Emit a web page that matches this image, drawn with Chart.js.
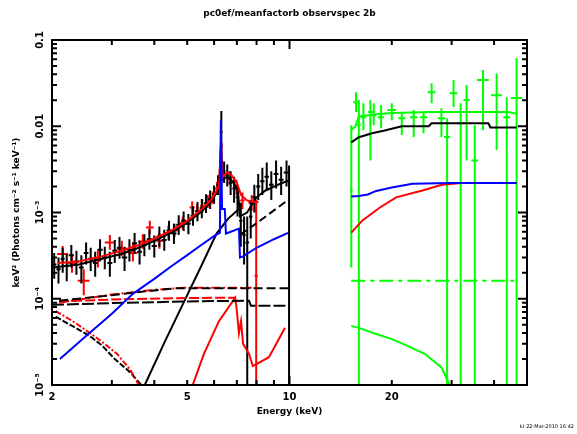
<!DOCTYPE html>
<html>
<head>
<meta charset="utf-8">
<script src="https://cdn.jsdelivr.net/npm/chart.js@4.4.0/dist/chart.umd.min.js"></script>
<style>
  body { margin: 0; background: #fff; }
  canvas { display: block; }
</style>
</head>
<body>
<canvas id="spec" width="577" height="434"></canvas>
<script>
"use strict";

// axis ticks / labels
const xLabels = [2, 5, 10, 20];
const xMinor = [3, 4, 5, 6, 7, 8, 9, 20, 30, 40];
const xMajor = [10];
const yLabels = [1e-5, 1e-4, 1e-3, 0.01, 0.1];
const yLabelText = ["10\u207B\u2075", "10\u207B\u2074", "10\u207B\u00B3", "0.01", "0.1"];

// XIS data, black (energy, half width, value, lower, upper)
const blkE  = [2.03, 2.09, 2.15, 2.21, 2.28, 2.36, 2.44, 2.52, 2.60, 2.68, 2.77, 2.86, 2.96, 3.06, 3.16, 3.27, 3.38, 3.50, 3.62, 3.74, 3.87, 4.00, 4.14, 4.28, 4.42, 4.57, 4.72, 4.88, 5.04, 5.20, 5.36, 5.52, 5.68, 5.84, 6.00, 6.16, 6.30, 6.42, 6.56, 6.71, 6.87, 7.03, 7.19, 7.35, 7.51, 7.69, 7.88, 8.09, 8.32, 8.57, 8.84, 9.13, 9.45, 9.80, 9.97];
const blkHw = [0.03, 0.03, 0.03, 0.03, 0.04, 0.04, 0.04, 0.04, 0.04, 0.04, 0.05, 0.05, 0.05, 0.05, 0.05, 0.06, 0.06, 0.06, 0.06, 0.06, 0.07, 0.07, 0.07, 0.07, 0.07, 0.08, 0.08, 0.08, 0.08, 0.08, 0.08, 0.08, 0.08, 0.08, 0.08, 0.07, 0.06, 0.06, 0.07, 0.08, 0.08, 0.08, 0.08, 0.08, 0.09, 0.09, 0.10, 0.11, 0.12, 0.13, 0.14, 0.15, 0.16, 0.18, 0.04];
const blkY  = [2.5e-4, 2.2e-4, 2.9e-4, 2.4e-4, 3.2e-4, 2.7e-4, 2.3e-4, 3.4e-4, 2.9e-4, 2.6e-4, 3.7e-4, 3.0e-4, 2.6e-4, 3.6e-4, 3.9e-4, 3.0e-4, 3.7e-4, 4.4e-4, 3.5e-4, 4.2e-4, 4.9e-4, 4.1e-4, 5.3e-4, 4.8e-4, 6.2e-4, 5.7e-4, 7.2e-4, 8.0e-4, 7.4e-4, 9.2e-4, 1.03e-3, 1.12e-3, 1.28e-3, 1.42e-3, 1.62e-3, 2.1e-3, 8.5e-3, 3.0e-3, 2.7e-3, 2.2e-3, 1.9e-3, 1.5e-3, 8.0e-4, 5.5e-4, 4.5e-4, 9.0e-4, 1.5e-3, 2.0e-3, 2.3e-3, 2.6e-3, 2.1e-3, 2.8e-3, 2.4e-3, 2.9e-3, 1.5e-3];
const blkLo = [1.7e-4, 1.5e-4, 2.0e-4, 1.6e-4, 2.3e-4, 1.9e-4, 1.5e-4, 2.5e-4, 2.1e-4, 1.8e-4, 2.7e-4, 2.2e-4, 1.8e-4, 2.6e-4, 2.9e-4, 2.1e-4, 2.7e-4, 3.3e-4, 2.5e-4, 3.1e-4, 3.7e-4, 3.0e-4, 4.0e-4, 3.6e-4, 4.7e-4, 4.3e-4, 5.5e-4, 6.1e-4, 5.6e-4, 7.0e-4, 7.9e-4, 8.6e-4, 9.9e-4, 1.1e-3, 1.26e-3, 1.6e-3, 5.5e-3, 2.2e-3, 2.0e-3, 1.6e-3, 1.3e-3, 9.0e-4, 4.0e-4, 2.5e-4, 1e-6, 5.0e-4, 1.0e-3, 1.4e-3, 1.6e-3, 1.8e-3, 1.4e-3, 1.9e-3, 1.6e-3, 2.0e-3, 1e-6];
const blkHi = [3.4e-4, 3.0e-4, 3.9e-4, 3.3e-4, 4.2e-4, 3.6e-4, 3.2e-4, 4.5e-4, 3.9e-4, 3.5e-4, 4.9e-4, 4.0e-4, 3.5e-4, 4.8e-4, 5.2e-4, 4.0e-4, 4.9e-4, 5.8e-4, 4.7e-4, 5.6e-4, 6.4e-4, 5.4e-4, 6.9e-4, 6.3e-4, 8.0e-4, 7.4e-4, 9.3e-4, 1.03e-3, 9.6e-4, 1.18e-3, 1.32e-3, 1.43e-3, 1.63e-3, 1.8e-3, 2.05e-3, 2.7e-3, 1.5e-2, 3.9e-3, 3.6e-3, 3.0e-3, 2.6e-3, 2.1e-3, 1.3e-3, 9.0e-4, 9.0e-4, 1.4e-3, 2.1e-3, 2.8e-3, 3.3e-3, 3.8e-3, 3.0e-3, 4.0e-3, 3.4e-3, 4.0e-3, 3.5e-3];

// XIS data, red
const redE  = [2.15, 2.29, 2.48, 2.73, 2.96, 3.21, 3.46, 3.70, 3.88, 4.14, 4.40, 4.59, 4.85, 5.17, 5.35, 5.54, 5.75, 5.94, 6.12, 6.31, 6.66, 6.98, 7.27, 7.74, 7.98];
const redHw = [0.08, 0.08, 0.10, 0.10, 0.10, 0.11, 0.11, 0.11, 0.10, 0.11, 0.11, 0.10, 0.11, 0.09, 0.09, 0.09, 0.09, 0.09, 0.08, 0.05, 0.11, 0.11, 0.11, 0.18, 0.09];
const redY  = [3.3e-4, 2.6e-4, 1.62e-4, 2.9e-4, 4.5e-4, 3.8e-4, 3.4e-4, 4.6e-4, 6.7e-4, 4.7e-4, 5.8e-4, 6.2e-4, 7.5e-4, 1.14e-3, 1.05e-3, 1.2e-3, 1.35e-3, 1.49e-3, 1.9e-3, 5.0e-3, 2.5e-3, 1.95e-3, 1.38e-3, 1.31e-3, 1.85e-4];
const redLo = [2.6e-4, 2.0e-4, 1.1e-4, 2.3e-4, 3.7e-4, 3.1e-4, 2.7e-4, 3.8e-4, 5.6e-4, 3.8e-4, 4.8e-4, 5.2e-4, 6.3e-4, 9.6e-4, 8.8e-4, 1.0e-3, 1.13e-3, 1.25e-3, 1.6e-3, 3.8e-3, 2.1e-3, 1.6e-3, 1.1e-3, 1.05e-3, 1e-6];
const redHi = [4.1e-4, 3.3e-4, 2.2e-4, 3.6e-4, 5.5e-4, 4.7e-4, 4.3e-4, 5.6e-4, 8.0e-4, 5.8e-4, 7.0e-4, 7.4e-4, 9.0e-4, 1.35e-3, 1.25e-3, 1.42e-3, 1.6e-3, 1.75e-3, 2.25e-3, 6.5e-3, 3.0e-3, 2.4e-3, 1.7e-3, 1.6e-3, 1.4e-3];

// PIN data, green
const grnE  = [15.2, 15.7, 16.0, 16.5, 17.3, 17.7, 18.6, 20.0, 21.4, 23.2, 24.8, 26.2, 28.0, 29.1, 30.4, 31.9, 33.2, 35.1, 37.1, 40.7, 43.6, 46.6];
const grnHw = [0.15, 0.3, 0.2, 0.3, 0.3, 0.3, 0.4, 0.6, 0.5, 0.6, 0.6, 0.7, 0.7, 0.6, 0.8, 0.7, 0.7, 0.8, 1.5, 1.5, 1.0, 1.8];
const grnY  = [1.8e-3, 1.9e-2, 1.03e-2, 1.27e-2, 1.46e-2, 1.34e-2, 1.27e-2, 1.54e-2, 1.24e-2, 1.27e-2, 1.27e-2, 2.48e-2, 1.24e-2, 7.5e-3, 2.41e-2, 1.08e-2, 2.01e-2, 4.0e-3, 3.43e-2, 2.29e-2, 1.27e-2, 2.12e-2];
const grnLo = [2.3e-4, 1.46e-2, 1e-6, 9.0e-3, 4.0e-3, 1.03e-2, 9.5e-3, 1.17e-2, 7.9e-3, 7.5e-3, 8.3e-3, 1.85e-2, 7.5e-3, 1e-6, 1.67e-2, 1e-6, 4.0e-3, 1e-6, 9.0e-3, 5.3e-3, 1e-6, 1e-6];
const grnHi = [1.03e-2, 2.48e-2, 2.01e-2, 1.85e-2, 2.01e-2, 1.85e-2, 1.76e-2, 1.85e-2, 1.41e-2, 1.54e-2, 1.46e-2, 3.16e-2, 1.62e-2, 1.24e-2, 3.43e-2, 1.85e-2, 3.0e-2, 1.03e-2, 4.48e-2, 4.1e-2, 2.17e-2, 6.2e-2];

// model curves (energy, value)
const blkModE = [2.0, 2.4, 2.8, 3.2, 3.6, 4.0, 4.5, 5.0, 5.5, 5.9, 6.2, 6.28, 6.36, 6.55, 6.8, 7.05, 7.15, 7.5, 8.0, 8.5, 9.0, 9.5, 10.0];
const blkModY = [2.3e-4, 2.5e-4, 2.9e-4, 3.3e-4, 3.9e-4, 4.7e-4, 5.9e-4, 7.6e-4, 1.02e-3, 1.35e-3, 1.9e-3, 6.0e-3, 2.4e-3, 2.6e-3, 2.3e-3, 1.8e-3, 9.0e-4, 1.0e-3, 1.5e-3, 1.8e-3, 2.0e-3, 2.2e-3, 2.35e-3];
const redModE = [2.08, 2.4, 2.8, 3.2, 3.6, 4.0, 4.5, 5.0, 5.5, 5.9, 6.2, 6.28, 6.36, 6.55, 6.75, 7.0, 7.2, 7.5, 7.9, 8.1];
const redModY = [2.6e-4, 2.7e-4, 3.1e-4, 3.6e-4, 4.2e-4, 5.0e-4, 6.2e-4, 8.0e-4, 1.08e-3, 1.42e-3, 2.0e-3, 5.2e-3, 2.6e-3, 2.9e-3, 2.7e-3, 2.2e-3, 1.6e-3, 1.38e-3, 1.32e-3, 1.32e-3];
const bluLoE = [2.11, 2.5, 3.0, 3.46, 4.0, 4.5, 5.0, 5.5, 6.02, 6.24, 6.28, 6.33, 6.45, 6.5, 6.66, 7.1, 7.15, 7.3, 8.0, 9.0, 9.9];
const bluLoY = [2.0e-5, 3.6e-5, 6.7e-5, 1.14e-4, 1.7e-4, 2.4e-4, 3.2e-4, 4.2e-4, 5.4e-4, 5.8e-4, 1.17e-2, 1.1e-3, 1.1e-3, 5.7e-4, 5.9e-4, 6.5e-4, 3.0e-4, 3.1e-4, 3.9e-4, 4.9e-4, 5.8e-4];
const blkDashE = [2.1, 3.0, 4.0, 4.6, 10.0];
const blkDashY = [9.5e-5, 1.1e-4, 1.25e-4, 1.32e-4, 1.32e-4];
const redDotE = [2.1, 3.0, 4.0, 4.9, 7.74];
const redDotY = [9.0e-5, 1.12e-4, 1.27e-4, 1.34e-4, 1.34e-4];
const blkFlatE = [2.0, 3.0, 5.0, 7.6, 7.7, 10.0];
const blkFlatY = [8.5e-5, 8.9e-5, 9.3e-5, 9.5e-5, 8.3e-5, 8.3e-5];
const redFlatE = [2.1, 3.0, 5.0, 6.9];
const redFlatY = [9.3e-5, 9.8e-5, 1.02e-4, 1.03e-4];
const redLineE = [5.14, 5.6, 6.2, 6.92, 6.98, 7.1, 7.2, 7.3, 7.6, 7.8, 8.7, 9.7];
const redLineY = [9e-6, 2.3e-5, 5.5e-5, 1.03e-4, 8.0e-5, 4.0e-5, 5.5e-5, 3.0e-5, 2.3e-5, 1.66e-5, 2.1e-5, 4.6e-5];
const redSoftE = [2.05, 2.3, 2.53, 2.8, 3.11, 3.4, 3.6];
const redSoftY = [7.2e-5, 5.5e-5, 4.25e-5, 3.2e-5, 2.29e-5, 1.5e-5, 1.0e-5];
const blkSoftE = [2.05, 2.3, 2.58, 2.8, 3.06, 3.4, 3.75];
const blkSoftY = [6.2e-5, 4.8e-5, 3.7e-5, 2.9e-5, 2.0e-5, 1.4e-5, 9e-6];
const blkSteepE = [3.75, 4.3, 5.0, 5.5, 6.1, 6.6, 7.1];
const blkSteepY = [1.0e-5, 3.2e-5, 1.1e-4, 2.4e-4, 5.7e-4, 8.5e-4, 1.1e-3];
const blkSteep2E = [7.15, 8.0, 9.9];
const blkSteep2Y = [5.5e-4, 7.5e-4, 1.4e-3];

const blkHiE = [15.2, 16.0, 17.5, 19.2, 21.4, 25.7, 26.2, 38.5, 39.0, 46.6];
const blkHiY = [6.5e-3, 7.45e-3, 8.3e-3, 9.0e-3, 1.0e-2, 1.0e-2, 1.08e-2, 1.08e-2, 9.7e-3, 9.7e-3];
const grnModE = [15.2, 15.6, 16.0, 18.0, 20.0, 26.0, 44.0, 46.6];
const grnModY = [9.2e-3, 9.8e-3, 1.3e-2, 1.38e-2, 1.42e-2, 1.46e-2, 1.46e-2, 1.4e-2];
const bluHiE = [15.2, 16.0, 17.0, 18.0, 20.0, 23.0, 30.0, 40.0, 46.6];
const bluHiY = [1.53e-3, 1.55e-3, 1.62e-3, 1.78e-3, 1.95e-3, 2.15e-3, 2.2e-3, 2.2e-3, 2.2e-3];
const redHiE = [15.2, 16.4, 18.5, 20.6, 24.6, 28.1, 32.0, 46.6];
const redHiY = [5.85e-4, 8.1e-4, 1.15e-3, 1.5e-3, 1.8e-3, 2.1e-3, 2.2e-3, 2.2e-3];
const grnDotE = [15.2, 46.6];
const grnDotY = [1.62e-4, 1.62e-4];
const grnLowE = [15.2, 16.0, 18.0, 20.0, 22.0, 25.0, 28.0, 29.6];
const grnLowY = [4.85e-5, 4.6e-5, 3.9e-5, 3.4e-5, 2.9e-5, 2.3e-5, 1.6e-5, 1.0e-5];


function pts(e, y) {
  return e.map((v, i) => ({ x: v, y: y[i] }));
}

function errPts(e, hw, y, lo, hi) {
  return e.map((v, i) => ({ x: v, y: y[i], xl: v - hw[i], xh: v + hw[i], yl: lo[i], yh: hi[i] }));
}

function model(data, color, dash) {
  return {
    data: data,
    showLine: true,
    borderColor: color,
    borderWidth: 2,
    borderDash: dash || [],
    pointRadius: 0,
    fill: false
  };
}

function dataSet(data, color) {
  return { data: data, errBars: true, borderColor: color, pointRadius: 0, showLine: false };
}

// error crosses, ticks, frame and text
const specPlugin = {
  id: 'specPlugin',
  beforeDatasetsDraw(chart) {
    const ctx = chart.ctx, a = chart.chartArea;
    const xs = chart.scales.x, ys = chart.scales.y;
    ctx.save();
    ctx.beginPath();
    ctx.rect(a.left, a.top, a.right - a.left, a.bottom - a.top);
    ctx.clip();
    ctx.lineWidth = 2;
    chart.data.datasets.forEach(ds => {
      if (!ds.errBars) return;
      ctx.strokeStyle = ds.borderColor;
      ds.data.forEach(p => {
        const px = xs.getPixelForValue(p.x), py = ys.getPixelForValue(p.y);
        ctx.beginPath();
        ctx.moveTo(xs.getPixelForValue(p.xl), py);
        ctx.lineTo(xs.getPixelForValue(p.xh), py);
        ctx.moveTo(px, ys.getPixelForValue(p.yl));
        ctx.lineTo(px, ys.getPixelForValue(p.yh));
        ctx.stroke();
      });
    });
    ctx.restore();
  },
  afterDraw(chart) {
    const ctx = chart.ctx, a = chart.chartArea;
    const xs = chart.scales.x, ys = chart.scales.y;
    ctx.save();
    ctx.strokeStyle = '#000';
    ctx.fillStyle = '#000';
    ctx.lineWidth = 2;
    ctx.strokeRect(a.left, a.top, a.right - a.left, a.bottom - a.top);

    ctx.beginPath();
    xMinor.concat(xMajor).forEach(v => {
      const len = xMajor.includes(v) ? 9 : 5;
      const px = xs.getPixelForValue(v);
      ctx.moveTo(px, a.bottom); ctx.lineTo(px, a.bottom - len);
      ctx.moveTo(px, a.top); ctx.lineTo(px, a.top + len);
    });
    for (let d = -5; d < -1; d++) {
      for (let k = 1; k <= 9; k++) {
        const v = k * Math.pow(10, d);
        const len = k === 1 ? 9 : 5;
        const py = ys.getPixelForValue(v);
        if (k === 1 && d === -5) continue;
        ctx.moveTo(a.left, py); ctx.lineTo(a.left + len, py);
        ctx.moveTo(a.right, py); ctx.lineTo(a.right - len, py);
      }
    }
    ctx.stroke();

    // tick labels
    ctx.font = "bold 10px 'DejaVu Sans'";
    ctx.textAlign = 'center';
    ctx.textBaseline = 'top';
    xLabels.forEach(v => {
      ctx.fillText(String(v), xs.getPixelForValue(v), a.bottom + 7);
    });
    yLabels.forEach((v, i) => {
      ctx.save();
      ctx.translate(a.left - 7, ys.getPixelForValue(v));
      ctx.rotate(-Math.PI / 2);
      ctx.textBaseline = 'bottom';
      ctx.fillText(yLabelText[i], 0, 0);
      ctx.restore();
    });

    // titles
    ctx.font = "bold 9px 'DejaVu Sans'";
    ctx.fillText('Energy (keV)', (a.left + a.right) / 2, a.bottom + 22);
    ctx.save();
    ctx.translate(17, (a.top + a.bottom) / 2);
    ctx.rotate(-Math.PI / 2);
    ctx.textBaseline = 'middle';
    ctx.fillText('keV\u00B2 (Photons cm\u207B\u00B2 s\u207B\u00B9 keV\u207B\u00B9)', 0, 0);
    ctx.restore();

    ctx.font = "bold 9px 'DejaVu Sans'";
    ctx.fillText('pc0ef/meanfactorb observspec 2b', (a.left + a.right) / 2, 9);

    ctx.font = "5px 'DejaVu Sans'";
    ctx.textAlign = 'right';
    ctx.fillText('kt 22-Mar-2010 16:42', 574, 424);
    ctx.restore();
  }
};

new Chart(document.getElementById('spec'), {
  type: 'scatter',
  data: {
    datasets: [
      model(pts(bluLoE, bluLoY), '#0000ff'),
      model(pts(bluHiE, bluHiY), '#0000ff'),
      model(pts(redModE, redModY), '#ff0000'),
      model(pts(blkModE, blkModY), '#000000'),
      model(pts(redHiE, redHiY), '#ff0000'),
      model(pts(blkHiE, blkHiY), '#000000'),
      model(pts(grnModE, grnModY), '#00ff00'),
      model(pts(blkDashE, blkDashY), '#000000', [9, 4]),
      model(pts(redDotE, redDotY), '#ff0000', [9, 3, 2, 3]),
      model(pts(blkFlatE, blkFlatY), '#000000', [12, 3]),
      model(pts(redFlatE, redFlatY), '#ff0000', [10, 3]),
      model(pts(redLineE, redLineY), '#ff0000'),
      model(pts(redSoftE, redSoftY), '#ff0000', [6, 2, 2, 2]),
      model(pts(blkSoftE, blkSoftY), '#000000', [6, 2]),
      model(pts(blkSteepE, blkSteepY), '#000000'),
      model(pts(blkSteep2E, blkSteep2Y), '#000000', [8, 4]),
      model(pts(grnDotE, grnDotY), '#00ff00', [14, 5, 4, 5]),
      model(pts(grnLowE, grnLowY), '#00ff00'),
      dataSet(errPts(grnE, grnHw, grnY, grnLo, grnHi), '#00ff00'),
      dataSet(errPts(redE, redHw, redY, redLo, redHi), '#ff0000'),
      dataSet(errPts(blkE, blkHw, blkY, blkLo, blkHi), '#000000')
    ]
  },
  options: {
    responsive: false,
    animation: false,
    devicePixelRatio: 1,
    layout: { padding: { left: 52, right: 50, top: 40, bottom: 49 } },
    plugins: { legend: { display: false }, tooltip: { enabled: false } },
    scales: {
      x: { type: 'logarithmic', min: 2, max: 50, display: false },
      y: { type: 'logarithmic', min: 1e-5, max: 0.1, display: false }
    }
  },
  plugins: [specPlugin]
});
</script>
</body>
</html>
